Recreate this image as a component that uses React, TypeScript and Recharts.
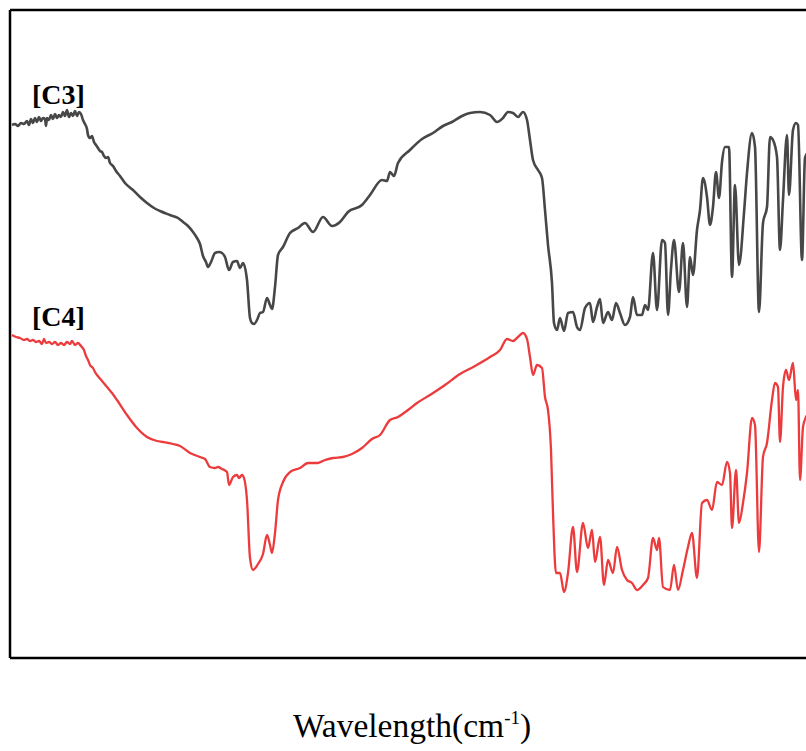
import React from 'react';
import { LineChart, Line, XAxis, YAxis, ReferenceLine } from 'recharts';

// FTIR spectra (x: wavenumber cm-1, y: transmittance, offset)
const c3Wavenumbers = [
  3992, 3980, 3968, 3956, 3944, 3932, 3924, 3916, 3908, 3900, 3892, 3884, 3876, 3868, 3860, 3856, 3852, 3844, 3836, 3828,
  3820, 3812, 3804, 3796, 3788, 3780, 3772, 3764, 3756, 3748, 3740, 3732, 3724, 3716, 3708, 3700, 3692, 3688, 3680, 3672,
  3664, 3656, 3648, 3640, 3632, 3624, 3616, 3608, 3600, 3588, 3576, 3560, 3540, 3508, 3480, 3452, 3424, 3400, 3360, 3328,
  3308, 3288, 3268, 3252, 3240, 3228, 3216, 3208, 3196, 3180, 3164, 3152, 3140, 3124, 3108, 3092, 3080, 3068, 3052, 3040,
  3032, 3024, 3012, 3000, 2988, 2972, 2960, 2952, 2940, 2928, 2908, 2880, 2848, 2820, 2788, 2748, 2712, 2680, 2648, 2592,
  2560, 2512, 2492, 2480, 2464, 2448, 2400, 2352, 2308, 2268, 2232, 2192, 2160, 2120, 2080, 2052, 2028, 2008, 1988, 1968,
  1948, 1932, 1920, 1908, 1888, 1872, 1860, 1848, 1832, 1824, 1812, 1800, 1784, 1768, 1748, 1732, 1720, 1700, 1680, 1668,
  1652, 1640, 1628, 1608, 1592, 1576, 1560, 1540, 1520, 1508, 1492, 1472, 1460, 1448, 1428, 1412, 1392, 1380, 1368, 1356,
  1344, 1324, 1308, 1292, 1280, 1268, 1252, 1240, 1228, 1212, 1200, 1188, 1176, 1164, 1152, 1140, 1124, 1112, 1100, 1084,
  1064, 1052, 1032, 1020, 1004, 988, 972, 960, 948, 932, 920, 908, 892, 884, 868, 856, 848, 832, 820, 800,
];
const c3Transmittance = [
  133.25, 133.5, 133, 133.75, 133.5, 134.25, 133.25, 134.75, 133.75, 135, 134, 135.25, 134.25, 135, 134.75, 133, 135, 134.5, 135.75, 134.75,
  136, 135, 135.75, 135.25, 136.5, 135.5, 137, 135.25, 136.25, 135.5, 136.75, 135.5, 136.5, 136, 134.5, 133.5, 132.25, 130.75, 130, 130.5,
  129, 128.25, 127.5, 126.75, 126.5, 125.5, 125, 125.25, 123.75, 123, 121.75, 120.5, 118.75, 117, 115.25, 113.75, 112.5, 111.75, 110.75, 110,
  109, 108, 106.5, 105, 103.5, 100.5, 99, 97.75, 99, 101.25, 101.5, 101.25, 100.25, 97, 99, 99.25, 97.5, 98.75, 94.5, 85,
  83.75, 83.5, 84.5, 86.25, 86.5, 90, 88.25, 87.25, 92.75, 100.75, 102.75, 106.25, 107.5, 108.75, 106.5, 110.25, 108, 109, 111.5, 113.25,
  115.75, 119.5, 119.25, 121.5, 120.5, 123.75, 127, 129.75, 131.25, 133, 134, 135.5, 136.25, 136.5, 135.75, 134, 135, 136.5, 136.25, 135.25,
  136.5, 134.5, 129.5, 124.5, 122, 120, 112, 103.25, 93.75, 83.75, 82, 85, 81.75, 86.25, 86.5, 82.75, 82, 87.5, 88.75, 84,
  87.75, 89.75, 83.75, 86.5, 84.5, 88.75, 86.25, 83.25, 85.25, 90.25, 85.75, 85.75, 88.25, 87, 101.25, 87, 104.5, 103.75, 85.75, 97.25,
  104.5, 91.5, 103.75, 87.75, 100.25, 95.75, 107, 112, 120, 115.25, 108.25, 112.75, 121.5, 115, 124, 127.75, 127.75, 95.25, 118.25, 98.25,
  111.25, 121.25, 131.25, 127.75, 86.5, 108.75, 112.75, 130.25, 129.5, 125.25, 102, 114.5, 130.75, 115.75, 132, 133.75, 133.25, 99.5, 125, 127,
];

const c4Wavenumbers = [
  3992, 3976, 3960, 3944, 3932, 3920, 3908, 3896, 3884, 3872, 3864, 3856, 3844, 3832, 3820, 3808, 3796, 3784, 3772, 3760,
  3752, 3740, 3728, 3716, 3704, 3696, 3688, 3680, 3668, 3660, 3652, 3632, 3612, 3592, 3572, 3532, 3492, 3452, 3412, 3388,
  3348, 3320, 3280, 3240, 3220, 3200, 3180, 3168, 3152, 3132, 3124, 3108, 3092, 3084, 3072, 3064, 3052, 3040, 3028, 3008,
  2988, 2972, 2960, 2952, 2940, 2928, 2908, 2880, 2840, 2808, 2768, 2740, 2708, 2668, 2632, 2592, 2552, 2520, 2480, 2448,
  2408, 2372, 2320, 2260, 2200, 2140, 2080, 2040, 2012, 1988, 1968, 1948, 1932, 1920, 1908, 1892, 1872, 1860, 1848, 1836,
  1828, 1816, 1800, 1784, 1768, 1748, 1732, 1708, 1688, 1672, 1660, 1640, 1624, 1608, 1588, 1572, 1552, 1532, 1512, 1492,
  1468, 1448, 1428, 1412, 1404, 1388, 1360, 1344, 1328, 1308, 1288, 1272, 1252, 1232, 1212, 1192, 1172, 1152, 1132, 1120,
  1112, 1096, 1084, 1068, 1052, 1032, 1020, 1004, 988, 972, 952, 940, 928, 920, 908, 896, 884, 868, 856, 848,
  840, 828, 816, 800,
];
const c4Transmittance = [
  80.75, 80.25, 80, 79.5, 79.75, 79.25, 79.5, 79, 79.25, 78.5, 79.75, 78.75, 79, 78.5, 79, 78.25, 78.75, 78.25, 79, 78.5,
  79.25, 78.25, 78.75, 78, 77, 75.5, 74.5, 73.25, 72.5, 71.5, 70.75, 69.25, 67.75, 66.25, 64.5, 60.75, 57.5, 55.25, 54.25, 54,
  53.5, 53, 51.25, 50.25, 49.75, 47.75, 47.5, 47.75, 47.25, 46.5, 43.25, 45.25, 45.75, 45, 45.75, 45, 39.5, 25, 22, 23.5,
  26, 30.75, 28.25, 26.25, 31.25, 39.5, 44, 46.5, 47.5, 48.75, 48.75, 49.5, 50, 50.25, 51, 52.5, 54.75, 55.75, 59.5, 60.25,
  62, 63.75, 65.75, 68.25, 71, 73, 75.25, 77, 79.75, 79.25, 80.25, 81.25, 79.75, 75.25, 70.75, 73.25, 72.5, 65.25, 62, 52,
  36.25, 21.25, 21.25, 16.5, 21.25, 32.75, 21.5, 33.75, 27.5, 32, 24, 30.25, 18.25, 24.5, 21.25, 27.75, 22, 19.5, 18.75, 17,
  18.25, 20, 30, 27, 30, 17.75, 17, 23.25, 17, 22, 27.75, 31.25, 20, 38.75, 39.5, 37, 44, 43.25, 49, 46.25,
  32.5, 47, 33.75, 38.75, 46.25, 60, 58.25, 26.5, 50.25, 53.75, 64.5, 68.75, 67.75, 54, 67.75, 72, 69.5, 73.75, 64.5, 67,
  44.5, 57.75, 60.25, 61.5,
];

const c3Data = c3Wavenumbers.map((x, i) => ({ x, y: c3Transmittance[i] }));
const c4Data = c4Wavenumbers.map((x, i) => ({ x, y: c4Transmittance[i] }));

export default function App() {
  return (
    <div style={{ position: 'absolute', left: 0, top: 0, width: 806, height: 751, overflow: 'hidden', background: '#fff' }}>
      <LineChart width={920} height={751} margin={{ top: 10, right: 10, bottom: 93, left: 10 }}>
        <XAxis type="number" dataKey="x" domain={[400, 4000]} reversed hide allowDataOverflow />
        <YAxis type="number" domain={[0, 162]} hide allowDataOverflow />
        <ReferenceLine y={162} stroke="#000" strokeWidth={2.5} />
        <ReferenceLine y={0} stroke="#000" strokeWidth={2.5} />
        <ReferenceLine x={4000} stroke="#000" strokeWidth={2.5} />
        <Line data={c3Data} dataKey="y" type="monotone" stroke="#474747" strokeWidth={2.6} strokeLinejoin="round" dot={false} isAnimationActive={false} />
        <Line data={c4Data} dataKey="y" type="monotone" stroke="#ec3b3d" strokeWidth={2.3} strokeLinejoin="round" dot={false} isAnimationActive={false} />
      </LineChart>
      <svg width={806} height={751} style={{ position: 'absolute', left: 0, top: 0, pointerEvents: 'none' }}>
        <text x={32} y={104} fontFamily="'Liberation Serif', serif" fontWeight="bold" fontSize={28} fill="#000">[C3]</text>
        <text x={32} y={326} fontFamily="'Liberation Serif', serif" fontWeight="bold" fontSize={28} fill="#000">[C4]</text>
        <text x={412} y={737} textAnchor="middle" fontFamily="'Liberation Serif', serif" fontSize={33.5} fill="#000">
          Wavelength(cm<tspan dy={-13} fontSize={19}>-1</tspan><tspan dy={13}>)</tspan>
        </text>
      </svg>
    </div>
  );
}
